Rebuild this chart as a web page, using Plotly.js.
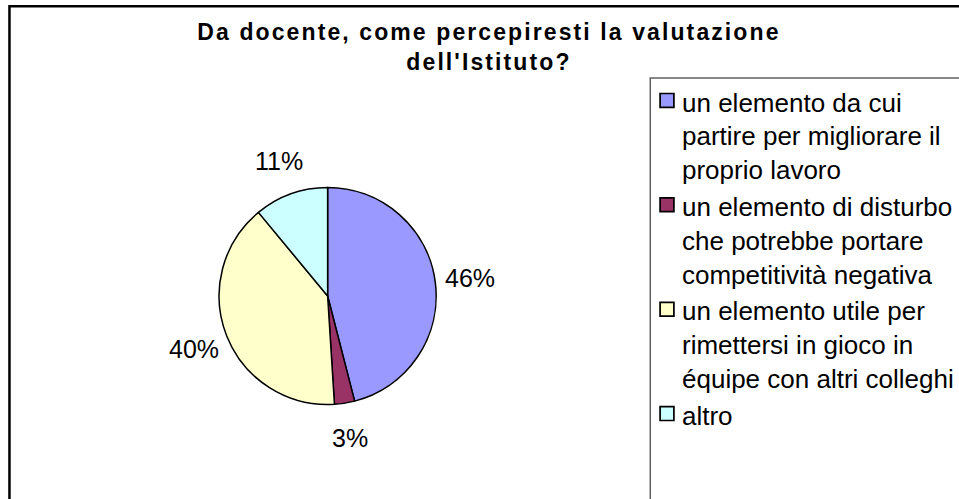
<!DOCTYPE html>
<html>
<head>
<meta charset="utf-8">
<script src="https://cdn.plot.ly/plotly-3.0.1.min.js"></script>
<style>
html,body{margin:0;padding:0;background:#fff;}
#chart{width:959px;height:499px;}
.gtitle{letter-spacing:2.1px;}
.legend .legendpie{transform:translate(25px,-1px) scale(1.15);}
</style>
</head>
<body>
<div id="chart"></div>
<script>
const categories = [
  "un elemento da cui<br>partire per migliorare il<br>proprio lavoro",
  "un elemento di disturbo<br>che potrebbe portare<br>competitività negativa",
  "un elemento utile per<br>rimettersi in gioco in<br>équipe con altri colleghi",
  "altro"
];
const values = [46, 3, 40, 11];
const colors = ["#9999FF", "#993366", "#FFFFCC", "#CCFFFF"];
const chartTitle = "Da docente, come percepiresti la valutazione<br>dell'Istituto?";

const W = 959, H = 499;
const cx = 329, cy = 296, r = 109;
const FONT = "Arial, 'Liberation Sans', sans-serif";

const trace = {
  type: "pie",
  labels: categories,
  values: values,
  sort: false,
  direction: "clockwise",
  rotation: 0,
  marker: {colors: colors, line: {color: "#000000", width: 1.5}},
  textinfo: "none",
  hoverinfo: "none",
  automargin: false,
  domain: {x: [(cx - r) / W, (cx + r) / W], y: [(H - cy - r) / H, (H - cy + r) / H]}
};

// percentage labels placed outside each slice, along its middle angle
const total = values.reduce((a, b) => a + b, 0);
const labelR = 1.32 * r;
let cum = 0;
const annotations = values.map(v => {
  const mid = (cum + v / 2) / total * 2 * Math.PI;
  cum += v;
  const px = cx + labelR * Math.sin(mid);
  const py = cy - labelR * Math.cos(mid);
  return {
    xref: "paper", yref: "paper",
    x: px / W, y: 1 - py / H,
    xanchor: "center", yanchor: "middle",
    text: Math.round(v / total * 100) + "%",
    showarrow: false,
    font: {family: FONT, size: 25, color: "#000"}
  };
});

const layout = {
  width: W, height: H,
  margin: {l: 0, r: 0, t: 0, b: 0},
  paper_bgcolor: "#ffffff",
  plot_bgcolor: "#ffffff",
  title: {
    text: chartTitle,
    font: {family: FONT, size: 23, color: "#000", weight: "bold"},
    x: 491 / W, xanchor: "center", xref: "paper",
    y: 1 - 40 / H, yanchor: "top", yref: "container"
  },
  showlegend: true,
  legend: {
    x: 645 / W, xanchor: "left",
    y: 1 - 78 / H, yanchor: "top",
    valign: "top",
    font: {family: FONT, size: 26, color: "#000"},
    bgcolor: "rgba(0,0,0,0)",
    borderwidth: 0,
    traceorder: "normal"
  },
  annotations: annotations,
  shapes: [
    {type: "rect", xref: "paper", yref: "paper", x0: 9.5 / W, x1: 1.05, y0: -0.05, y1: 1 - 6.2 / H,
     line: {color: "#000000", width: 2.5}, fillcolor: "rgba(0,0,0,0)"},
    {type: "rect", xref: "paper", yref: "paper", x0: 653 / W, x1: 1.05, y0: -0.05, y1: 1 - 78 / H,
     line: {color: "#606060", width: 1.5}, fillcolor: "rgba(0,0,0,0)"}
  ]
};

Plotly.newPlot("chart", [trace], layout, {staticPlot: true, displayModeBar: false});
</script>
</body>
</html>
